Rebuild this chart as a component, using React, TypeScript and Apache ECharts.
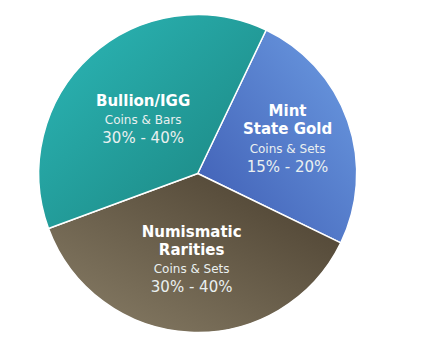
import React, { useEffect, useRef } from "react";
import * as echarts from "echarts";

const categories = ["Mint State Gold", "Numismatic Rarities", "Bullion/IGG"];
const titleLines = ["Mint\nState Gold", "Numismatic\nRarities", "Bullion/IGG"];
const subtitles = ["Coins & Sets", "Coins & Sets", "Coins & Bars"];
const ranges = ["15% - 20%", "30% - 40%", "30% - 40%"];
const values = [25.1, 37.2, 37.7];

const gradients = [
  { x: 1, y: 0, x2: 0, y2: 1, from: "#6d9de3", to: "#3d5bb2" },
  { x: 1, y: 0, x2: 0, y2: 1, from: "#483d2d", to: "#8a7f68" },
  { x: 0, y: 0, x2: 1, y2: 1, from: "#2cb8b8", to: "#1a827d" },
];
const labelShift = [
  [12, -8],
  [-2, 3],
  [1, 6],
];

export default function App() {
  const ref = useRef<HTMLDivElement>(null);
  useEffect(() => {
    document.body.style.margin = "0";
    const chart = echarts.init(ref.current!, null, { renderer: "svg" });
    const font = "Verdana, 'DejaVu Sans', sans-serif";
    chart.setOption({
      animation: false,
      series: [
        {
          type: "pie",
          center: [197.7, 173.5],
          radius: 159,
          startAngle: 64.5,
          clockwise: true,
          silent: true,
          itemStyle: { borderColor: "#ffffff", borderWidth: 1.5 },
          label: {
            show: true,
            position: "inside",
            color: "#ffffff",
            fontFamily: font,
            align: "center",
            formatter: (p: any) => {
              const i = p.dataIndex;
              const t = titleLines[i]
                .split("\n")
                .map((s) => `{t|${s}}`)
                .join("\n");
              return `${t}\n{s|${subtitles[i]}}\n{p|${ranges[i]}}`;
            },
            rich: {
              t: { fontSize: 15, fontWeight: "bold", lineHeight: 18, color: "#ffffff", fontFamily: font },
              s: { fontSize: 12, lineHeight: 21, color: "#eaf0f0", fontFamily: font },
              p: { fontSize: 15, lineHeight: 15, color: "#eaf0f0", fontFamily: font },
            },
          },
          labelLine: { show: false },
          labelLayout: (params: any) => ({
            dx: labelShift[params.dataIndex][0],
            dy: labelShift[params.dataIndex][1],
          }),
          data: categories.map((name, i) => ({
            name,
            value: values[i],
            itemStyle: {
              color: new echarts.graphic.LinearGradient(
                gradients[i].x,
                gradients[i].y,
                gradients[i].x2,
                gradients[i].y2,
                [
                  { offset: 0, color: gradients[i].from },
                  { offset: 1, color: gradients[i].to },
                ]
              ),
            },
          })),
        },
      ],
    });
    return () => chart.dispose();
  }, []);
  return <div ref={ref} style={{ width: 432, height: 340 }} />;
}
